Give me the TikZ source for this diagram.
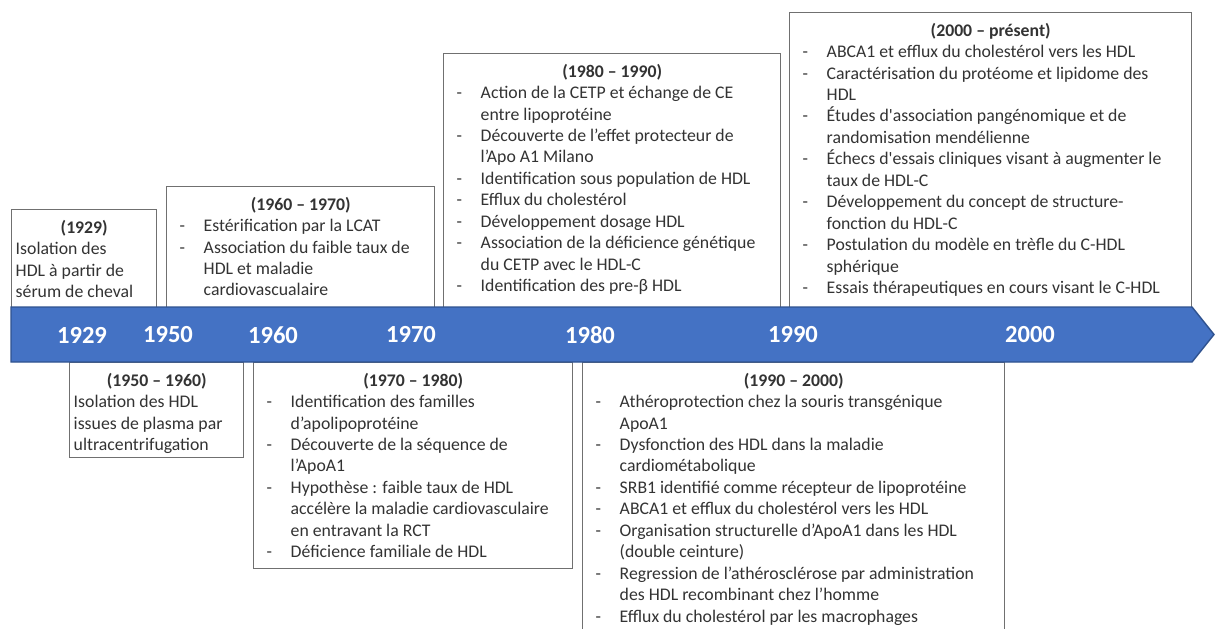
\documentclass[tikz,border=0pt]{standalone}
\usepackage{fontspec}
\setmainfont{Carlito}
\usepackage{xcolor}
\usepackage{tikz}
\usetikzlibrary{arrows}
\usetikzlibrary{calc}
\usetikzlibrary{positioning}

\definecolor{bandblue}{HTML}{4472C4}
\definecolor{banddark}{HTML}{2F528F}
\definecolor{boxline}{HTML}{707070}
\definecolor{textgray}{HTML}{333333}

% header line and hanging "-" items inside a period box
\newcommand{\hdr}[1]{\centerline{\strut\textbf{#1}}}
\newcommand{\itm}[1]{\par\hangindent=0.66cm\hangafter=1\noindent\makebox[0.66cm][l]{\hspace{0.18cm}-}#1}
\newcommand{\erabox}[3]{\parbox[t][#2][t]{#1}{\raggedright #3}}

\begin{document}
\begin{tikzpicture}[x=0.02cm,y=-0.02cm,
                    era/.style={draw=boxline,line width=0.85pt,fill=white,anchor=north west,
                                inner xsep=0.08cm,inner ysep=0.17cm,text=textgray,
                                font=\fontsize{10.1pt}{12.2pt}\selectfont},
                    yearlbl/.style={text=white,font=\fontsize{14pt}{16pt}\selectfont\bfseries}]

    \tikzset{
        band/.style={fill=bandblue,draw=banddark,line width=0.8pt,line join=miter}
    }

    \useasboundingbox (0,0) rectangle (1215,629);
    \clip (0,0) rectangle (1215,629);

    % above the band
    \node[era] (e1929) at (11,209) {\erabox{2.74cm}{1.62cm}{%
        \hdr{(1929)}
        Isolation des\\HDL à partir de\\sérum de cheval}};
    \node[era] (e1960) at (166,186) {\erabox{5.20cm}{2.08cm}{%
        \hdr{(1960 – 1970)}
        \itm{Estérification par la LCAT}
        \itm{Association du faible taux de\newline HDL et maladie\newline cardiovascualaire}}};
    \node[era] (e1980) at (443,53) {\erabox{6.58cm}{4.74cm}{%
        \hdr{(1980 – 1990)}
        \itm{Action de la CETP et échange de CE\newline entre lipoprotéine}
        \itm{Découverte de l’effet protecteur de\newline l’Apo A1 Milano}
        \itm{Identification sous population de HDL}
        \itm{Efflux du cholestérol}
        \itm{Développement dosage HDL}
        \itm{Association de la déficience génétique\newline du CETP avec le HDL-C}
        \itm{Identification des pre-β HDL}}};
    \node[era] (e2000) at (789,12) {\erabox{7.88cm}{5.56cm}{%
        \hdr{(2000 – présent)}
        \itm{ABCA1 et efflux du cholestérol vers les HDL}
        \itm{Caractérisation du protéome et lipidome des\newline HDL}
        \itm{Études d\textquotesingle association pangénomique et de\newline randomisation mendélienne}
        \itm{Échecs d\textquotesingle essais cliniques visant à augmenter le\newline taux de HDL-C}
        \itm{Développement du concept de structure-\newline fonction du HDL-C}
        \itm{Postulation du modèle en trèfle du C-HDL\newline sphérique}
        \itm{Essais thérapeutiques en cours visant le C-HDL}}};

    % below the band
    \node[era] (e1950) at (69,362) {\erabox{3.32cm}{1.56cm}{%
        \hdr{(1950 – 1960)}
        Isolation des HDL\\issues de plasma par\\ultracentrifugation}};
    \node[era] (e1970) at (253,362) {\erabox{6.22cm}{3.78cm}{%
        \hdr{(1970 – 1980)}
        \itm{Identification des familles\newline d’apolipoprotéine}
        \itm{Découverte de la séquence de\newline l’ApoA1}
        \itm{Hypothèse : faible taux de HDL\newline accélère la maladie cardiovasculaire\newline en entravant la RCT}
        \itm{Déficience familiale de HDL}}};
    \node[era] (e1990) at (582,362) {\erabox{8.28cm}{5.42cm}{%
        \hdr{(1990 – 2000)}
        \itm{Athéroprotection chez la souris transgénique\newline ApoA1}
        \itm{Dysfonction des HDL dans la maladie\newline cardiométabolique}
        \itm{SRB1 identifié comme récepteur de lipoprotéine}
        \itm{ABCA1 et efflux du cholestérol vers les HDL}
        \itm{Organisation structurelle d’ApoA1 dans les HDL\newline (double ceinture)}
        \itm{Regression de l’athérosclérose par administration\newline des HDL recombinant chez l’homme}
        \itm{Efflux du cholestérol par les macrophages}}};

    % the time arrow
    \draw[band] (11,307) -- (1192,307) -- (1214,334.5) -- (1192,362) -- (11,362) -- cycle;

    \foreach \yr/\xx in {1929/82,1950/168,1960/273,1970/411,1980/590,1990/793,2000/1030}
        \node[yearlbl] (y\yr) at (\xx,335) {\yr};
\end{tikzpicture}
\end{document}
